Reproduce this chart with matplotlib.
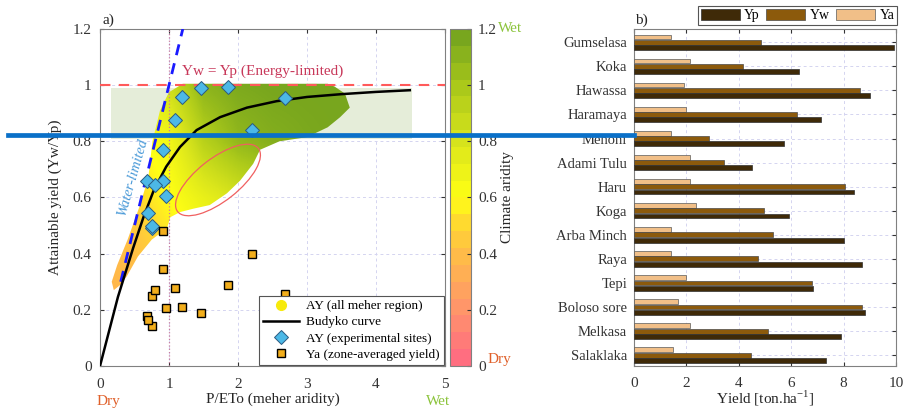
import numpy as np
import matplotlib
matplotlib.use("Agg")
import matplotlib.pyplot as plt
from matplotlib.colors import LinearSegmentedColormap, Normalize
from matplotlib.cm import ScalarMappable
from matplotlib.patches import Polygon, Ellipse
from matplotlib.lines import Line2D

plt.rcParams['font.family'] = ['Liberation Serif', 'DejaVu Serif']
plt.rcParams['font.size'] = 11

# --- datos panel b) ---
sites = ['Gumselasa', 'Koka', 'Hawassa', 'Haramaya', 'Mehoni', 'Adami Tulu', 'Haru',
         'Koga', 'Arba Minch', 'Raya', 'Tepi', 'Boloso sore', 'Melkasa', 'Salaklaka']
yp = [9.92, 6.31, 9.01, 7.12, 5.71, 4.51, 8.41, 5.91, 8.00, 8.71, 6.83, 8.83, 7.90, 7.31]
yw = [4.83, 4.17, 8.62, 6.23, 2.87, 3.45, 8.05, 4.97, 5.29, 4.74, 6.78, 8.71, 5.10, 4.45]
ya = [1.43, 2.15, 1.90, 1.97, 1.43, 2.15, 2.15, 2.36, 1.43, 1.43, 1.97, 1.67, 2.14, 1.49]

# --- datos panel a) ---
site_aridity = [0.75, 0.92, 1.19, 1.08, 0.76, 0.91, 2.68, 2.21, 0.68, 0.69, 1.86, 1.46, 0.80, 0.95]
ay_sites = [0.49, 0.66, 0.957, 0.875, 0.50, 0.77, 0.955, 0.84, 0.66, 0.545, 0.993, 0.99, 0.645, 0.605]
ya_sites = [0.143, 0.345, 0.21, 0.277, 0.25, 0.48, 0.257, 0.40, 0.177, 0.164, 0.29, 0.19, 0.27, 0.205]

budyko_x = [0, 0.26, 0.48, 0.63, 0.78, 0.96, 1.16, 1.40, 1.74, 2.13, 2.56, 3.0, 3.5, 4.0, 4.49]
budyko_y = [0, 0.246, 0.42, 0.53, 0.626, 0.71, 0.78, 0.84, 0.886, 0.92, 0.943, 0.958, 0.968, 0.976, 0.982]

water_x = [0.3, 1.2]
water_y = [0.3, 1.2]

# contorno de la nube AY (todas las regiones meher)
cloud_x = [0.20, 0.30, 0.39, 0.55, 0.75, 0.97, 1.02, 1.16, 1.35, 1.59, 1.84, 2.03, 2.22, 2.32,
           2.60, 3.00, 3.30, 3.48, 3.62, 3.55, 3.40, 3.30, 1.20, 1.00, 0.87, 0.76, 0.70, 0.57,
           0.40, 0.25, 0.17]
cloud_y = [0.27, 0.29, 0.32, 0.39, 0.45, 0.49, 0.53, 0.548, 0.56, 0.573, 0.615, 0.66, 0.72, 0.77,
           0.80, 0.815, 0.85, 0.886, 0.92, 0.97, 0.995, 1.005, 1.005, 0.975, 0.91, 0.80, 0.67, 0.566,
           0.45, 0.36, 0.30]
# color (aridez) de la nube en una malla gruesa
grid_x = [0, 0.5, 1.0, 1.5, 2.0, 2.5, 3.0, 3.5, 4.0]
grid_y = [0.2, 0.4, 0.6, 0.8, 1.0]
cloud_c = [[0.35, 0.36, 0.45, 0.55, 0.65, 0.75, 0.85, 0.95, 1.00],
           [0.36, 0.40, 0.50, 0.60, 0.70, 0.80, 0.90, 1.00, 1.05],
           [0.42, 0.48, 0.60, 0.72, 0.82, 0.95, 1.05, 1.10, 1.15],
           [0.50, 0.58, 0.66, 0.95, 1.10, 1.15, 1.18, 1.20, 1.20],
           [0.60, 0.70, 0.85, 1.12, 1.18, 1.20, 1.20, 1.20, 1.20]]

cmap_pos = [0, 0.2, 0.4, 0.5, 0.6, 0.8, 1.0, 1.2]
cmap_cols = ['#ff6e80', '#ff9868', '#ffbf45', '#ffd830', '#ffff14', '#dbe61c', '#aecb1a', '#78a61e']

W, H = 904, 408
fig = plt.figure(figsize=(W / 100, H / 100), dpi=100)


def fx(px):
    return px / W


def fy(py):
    return 1 - py / H


anchors = list(zip([p / 1.2 for p in cmap_pos], cmap_cols))
cmap = LinearSegmentedColormap.from_list('arid', anchors)
cmap_disc = LinearSegmentedColormap.from_list('arid_d', anchors, N=20)

grid_col = '#d4d4f0'
spine_col = '#808080'

# ---------------- panel a ----------------
ax = fig.add_axes([fx(100), fy(366), fx(445) - fx(100), fy(29) - fy(366)])

# sombreado verde
ax.fill_between([0.16, 4.52], 0.81, 0.99, color='#e5edd9', zorder=1, lw=0)

dx = grid_x[1] - grid_x[0]
dy = grid_y[1] - grid_y[0]
im = ax.imshow(np.array(cloud_c), extent=(grid_x[0] - dx / 2, grid_x[-1] + dx / 2,
                                          grid_y[0] - dy / 2, grid_y[-1] + dy / 2),
               origin='lower', cmap=cmap, vmin=0, vmax=1.2, interpolation='bilinear',
               aspect='auto', zorder=2)
poly = Polygon(np.column_stack([cloud_x, cloud_y]), closed=True, facecolor='none',
               edgecolor='none', transform=ax.transData)
ax.add_patch(poly)
im.set_clip_path(poly)

ax.axhline(1.0, color='#ff5a5a', lw=1.5, dashes=(5, 4), zorder=3)
ax.axvline(1.0, color='#c87ca0', lw=0.9, ls=':', zorder=3)
ax.plot(water_x, water_y, color='#1a1aff', lw=2, dashes=(4, 3), zorder=4)
ax.plot(budyko_x, budyko_y, color='k', lw=1.8, zorder=5)

ax.add_patch(Ellipse((0.342, 0.552), 0.30, 0.125, angle=39, transform=ax.transAxes,
                     fill=False, edgecolor='#f06060', lw=0.9, zorder=5))

ax.plot(site_aridity, ay_sites, ls='none', marker='D', ms=7.5, mfc='#4cb8e6',
        mec='#2a5a80', mew=0.7, zorder=6)
ax.plot(site_aridity, ya_sites, ls='none', marker='s', ms=6, mfc='#f2ae1c',
        mec='k', mew=1.0, zorder=6)

ax.text(2.36, 1.05, 'Yw = Yp (Energy-limited)', color='#c8385a', fontsize=11,
        ha='center', va='center')
ax.text(0.47, 0.67, 'Water-limited', color='#4a9ad8', fontsize=10.5, style='italic',
        rotation=74, ha='center', va='center')

ax.set_xlim(0, 5)
ax.set_ylim(0, 1.2)
ax.set_xticks([0, 1, 2, 3, 4, 5])
ax.set_yticks([0, 0.2, 0.4, 0.6, 0.8, 1.0, 1.2])
ax.set_yticklabels(['0', '0.2', '0.4', '0.6', '0.8', '1', '1.2'])
ax.grid(True, color=grid_col, lw=0.7, dashes=(3, 3), zorder=0)
ax.set_axisbelow(True)
ax.tick_params(direction='in', length=3, top=True, right=True, colors='#333333',
               labelsize=11, pad=6)
ax.tick_params(axis='x', pad=9)
for s in ax.spines.values():
    s.set_color(spine_col)
    s.set_linewidth(0.8)
ax.set_ylabel('Attainable yield (Yw/Yp)', fontsize=11, color='#262626', labelpad=8)
ax.set_xlabel('P/ETo (meher aridity)', fontsize=11, color='#262626', labelpad=1)
ax.text(0.12, -0.086, 'Dry', transform=ax.get_xaxis_transform(), color='#e0602a',
        fontsize=11, ha='center', va='top')
ax.text(4.9, -0.086, 'Wet', transform=ax.get_xaxis_transform(), color='#8cc43c',
        fontsize=11, ha='center', va='top')
fig.text(fx(103), fy(20), 'a)', fontsize=11, ha='left', va='center', color='#262626')

handles = [Line2D([], [], ls='none', marker='o', ms=7, mfc='#f7ea0c', mec='#f7ea0c'),
           Line2D([], [], color='k', lw=1.8),
           Line2D([], [], ls='none', marker='D', ms=7, mfc='#4cb8e6', mec='#2a5a80', mew=0.7),
           Line2D([], [], ls='none', marker='s', ms=6, mfc='#f2ae1c', mec='k', mew=1.0)]
labels = ['AY (all meher region)', 'Budyko curve', 'AY (experimental sites)',
          'Ya (zone-averaged yield)']
leg = ax.legend(handles, labels, loc='lower right', bbox_to_anchor=(1.0, 0.0), fontsize=9.5,
                fancybox=False, edgecolor='#555555', framealpha=1, handlelength=2.8,
                borderpad=0.3, labelspacing=0.3, handletextpad=0.5, borderaxespad=0.1)
leg.get_frame().set_linewidth(0.8)
leg.set_zorder(10)

# barra de color
cax = fig.add_axes([fx(450), fy(366), fx(471) - fx(450), fy(29) - fy(366)])
cb = fig.colorbar(ScalarMappable(norm=Normalize(0, 1.2), cmap=cmap_disc), cax=cax)
cb.set_ticks([0, 0.2, 0.4, 0.6, 0.8, 1.0, 1.2])
cb.set_ticklabels(['0', '0.2', '0.4', '0.6', '0.8', '1', '1.2'])
cb.outline.set_edgecolor(spine_col)
cb.outline.set_linewidth(0.8)
cax.tick_params(direction='in', length=3, labelsize=11, colors='#333333', pad=5)
cb.set_label('Climate aridity', fontsize=11, color='#262626', labelpad=3)
fig.text(fx(498), fy(29), 'Wet', color='#8cc43c', fontsize=11, ha='left', va='center')
fig.text(fx(488), fy(360), 'Dry', color='#e0602a', fontsize=11, ha='left', va='center')

# ---------------- panel b ----------------
ax2 = fig.add_axes([fx(634), fy(366), fx(896) - fx(634), fy(29) - fy(366)])
pos = np.arange(len(sites))
h = 0.22
ax2.barh(pos - h, ya, height=0.2, color='#f1bf88', edgecolor='#5a5a5a', lw=0.5, zorder=3, label='Ya')
ax2.barh(pos, yw, height=0.2, color='#8c5a0c', edgecolor='#4a4a4a', lw=0.5, zorder=3, label='Yw')
ax2.barh(pos + h, yp, height=0.2, color='#3f2a08', edgecolor='#303030', lw=0.5, zorder=3, label='Yp')
ax2.set_ylim(13.45, -0.55)
ax2.set_xlim(0, 10)
ax2.set_yticks(pos)
ax2.set_yticklabels(sites)
ax2.set_xticks([0, 2, 4, 6, 8, 10])
ax2.grid(True, color=grid_col, lw=0.7, dashes=(3, 3), zorder=0)
ax2.set_axisbelow(True)
ax2.tick_params(direction='in', length=3, top=True, right=True, colors='#333333',
                labelsize=10.5, pad=5)
ax2.tick_params(axis='x', pad=8, labelsize=11)
for s in ax2.spines.values():
    s.set_color(spine_col)
    s.set_linewidth(0.8)
ax2.set_xlabel('Yield [ton.ha$^{\\mathregular{-1}}$]', fontsize=11, color='#262626', labelpad=-1)
fig.text(fx(635), fy(20), 'b)', fontsize=11, ha='left', va='center', color='#262626')

bh, bl = ax2.get_legend_handles_labels()
order = [2, 1, 0]
leg2 = fig.legend([bh[i] for i in order], [bl[i] for i in order], loc='upper right',
                  bbox_to_anchor=(fx(897), fy(6)), ncol=3, fontsize=10, fancybox=False,
                  edgecolor='#555555', framealpha=1, handlelength=2.8, handleheight=0.9,
                  columnspacing=0.5, handletextpad=0.3, borderpad=0.2, borderaxespad=0)
leg2.get_frame().set_linewidth(0.8)

# línea azul horizontal sobre la figura
fig.add_artist(Line2D([fx(8), fx(634)], [fy(135), fy(135)], color='#0a70c8', lw=3.4,
                      transform=fig.transFigure, zorder=20))

fig.savefig('out.png', dpi=100)
